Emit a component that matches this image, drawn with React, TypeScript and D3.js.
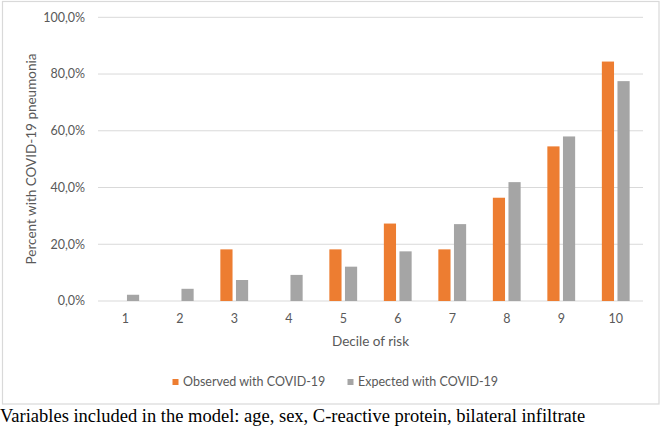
import React from "react";
import * as d3 from "d3";

const deciles = ["1", "2", "3", "4", "5", "6", "7", "8", "9", "10"];
const observed = [0, 0, 18.2, 0, 18.2, 27.3, 18.2, 36.4, 54.5, 84.4];
const expected = [2.2, 4.3, 7.4, 9.2, 12.1, 17.5, 27.1, 41.9, 58.0, 77.5];
const yTicks = [0, 20, 40, 60, 80, 100];
const seriesNames = ["Observed with COVID-19", "Expected with COVID-19"];
const colors = ["#ED7D31", "#A5A5A5"];

const W = 661;
const H = 427;
const M = { left: 98, right: 643, top: 17.3, bottom: 301 };
const FONT = "Lato, 'Open Sans', sans-serif";
const TXT = "#595959";

export default function App() {
  const x = d3.scaleBand<string>().domain(deciles).range([M.left, M.right]).paddingInner(0).paddingOuter(0);
  const y = d3.scaleLinear().domain([0, 100]).range([M.bottom, M.top]);
  const groupW = x.bandwidth() * 0.51;
  const x1 = d3.scaleBand<number>().domain([0, 1]).range([0, groupW]).paddingInner(0.22);
  const fmt = (v: number) => d3.format(".1f")(v).replace(".", ",") + "%";
  const series = [observed, expected];

  return (
    <svg width={W} height={H} style={{ position: "absolute", left: 0, top: 0, background: "#fff" }}>
      <rect x={2.5} y={1.5} width={656.5} height={402.5} fill="#fff" stroke="#D9D9D9" strokeWidth={1.2} />
      {yTicks.map((t) => (
        <g key={t}>
          <line x1={M.left} x2={M.right} y1={y(t)} y2={y(t)} stroke="#D9D9D9" strokeWidth={1} />
          <text x={85} y={y(t)} dy="0.35em" textAnchor="end" fontFamily={FONT} fontSize={12.5} fill={TXT}>
            {fmt(t)}
          </text>
        </g>
      ))}
      {series.map((vals, si) =>
        vals.map((v, i) => {
          const bx = (x(deciles[i]) as number) + (x.bandwidth() - groupW) / 2 + (x1(si) as number);
          return (
            <rect key={si + "-" + i} x={bx} y={y(v)} width={x1.bandwidth()} height={y(0) - y(v)} fill={colors[si]} />
          );
        })
      )}
      {deciles.map((d) => (
        <text key={d} x={(x(d) as number) + x.bandwidth() / 2} y={319} dy="0.35em" textAnchor="middle" fontFamily={FONT} fontSize={12.5} fill={TXT}>
          {d}
        </text>
      ))}
      <text x={(M.left + M.right) / 2} y={341.5} dy="0.35em" textAnchor="middle" fontFamily={FONT} fontSize={13.5} fill={TXT}>
        Decile of risk
      </text>
      <text transform={`translate(31,159) rotate(-90)`} textAnchor="middle" dy="0.35em" fontFamily={FONT} fontSize={13.5} fill={TXT}>
        Percent with COVID-19 pneumonia
      </text>
      {seriesNames.map((n, i) => {
        const lx = [172.5, 347.5][i];
        return (
          <g key={n}>
            <rect x={lx} y={379} width={6} height={6} fill={colors[i]} />
            <text x={lx + 10.5} y={382} dy="0.35em" fontFamily={FONT} fontSize={12.5} fill={TXT}>
              {n}
            </text>
          </g>
        );
      })}
      <text x={0} y={421.5} fontFamily="'Liberation Serif', 'Times New Roman', serif" fontSize={18.5} fill="#000">
        Variables included in the model: age, sex, C-reactive protein, bilateral infiltrate
      </text>
    </svg>
  );
}
